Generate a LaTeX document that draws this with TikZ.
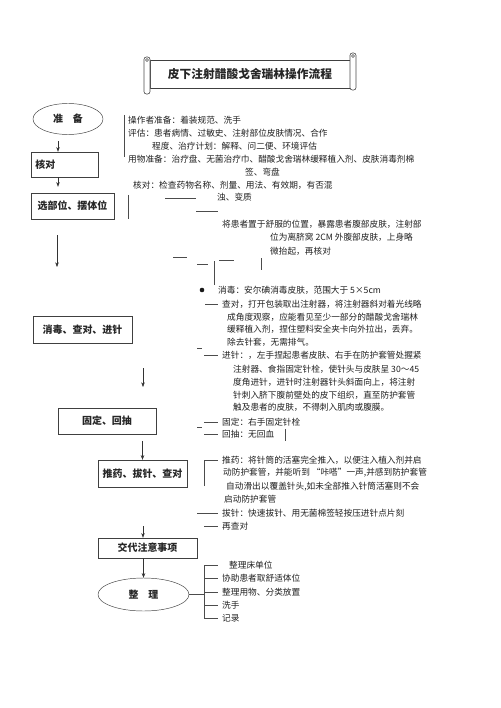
\documentclass[tikz,border=0pt]{standalone}
\usepackage{fontspec}
\newfontfamily\cjk{Noto Sans CJK SC}
\usetikzlibrary{arrows.meta,shapes.geometric}
\newcommand{\bodyfont}{\cjk\fontsize{7.4}{9}\selectfont}
\newcommand{\stagefont}{\cjk\bfseries\fontsize{8.5}{10}\selectfont}
\newcommand{\titlefont}{\cjk\bfseries\fontsize{10}{12}\selectfont}

\begin{document}
\begin{tikzpicture}[x=0.03cm, y=-0.03cm,
  stage/.style={draw=black!75, minimum height=0.78cm, inner sep=2pt,
                font=\stagefont, text=black!85},
  oval/.style={draw=black!75, ellipse, inner sep=0pt, font=\stagefont, text=black!85},
  txt/.style={anchor=west, inner sep=0pt, font=\bodyfont, text=black!88},
  arrow/.style={-{Stealth[length=4pt, width=3pt]}, black!80},
  stub/.style={black!70, line width=0.5pt}
]
\useasboundingbox (0,0) rectangle (500,708);

% Title scroll
\node[draw=black!75, minimum width=6cm, minimum height=0.84cm, font=\titlefont,
      text=black!85] (title) at (250,74) {皮下注射醋酸戈舍瑞林操作流程};
\draw[stub, rounded corners=2pt, fill=white] (144,57) rectangle (150,94);
\draw[stub] (147,60) circle (1.5);
\draw[stub, rounded corners=2pt, fill=white] (350,53) rectangle (356,90);
\draw[stub] (353,56) circle (1.5);

% Main steps
\node[oval, minimum width=2.1cm, minimum height=0.93cm] (zhunbei) at (68,119) {准\quad 备};
\node[stage, minimum width=2.01cm, minimum height=0.75cm, text width=1.75cm,
      align=left] (hedui) at (64.5,164.5) {核对};
\node[stage, minimum width=2.49cm] (xuanbuwei) at (72.5,206) {选部位、摆体位};
\node[stage, minimum width=2.97cm, minimum height=0.81cm] (xiaodu) at (82.5,329.5) {消毒、查对、进针};
\node[stage, minimum width=2.94cm] (guding) at (107,421) {固定、回抽};
\node[stage, minimum width=2.67cm, minimum height=0.81cm] (tuiyao) at (142.5,473.5) {推药、拔针、查对};
\node[stage, minimum width=2.97cm, minimum height=0.6cm] (jiaodai) at (147.5,548) {交代注意事项};
\node[oval, minimum width=2.73cm, minimum height=0.99cm] (zhengli) at (143.5,594.5) {整\quad 理};

% Arrows between steps
\coordinate (spine) at (58,0);
\draw[arrow, shorten <=0.2cm] (zhunbei.south -| spine) -- (hedui.north -| spine);
\draw[arrow, shorten >=0.18cm] (hedui.south -| spine) -- (xuanbuwei.north -| spine);
\coordinate (gapA) at (57,235);
\coordinate (gapB) at (57,267);
\draw[arrow] (gapA) -- (gapB);
\coordinate (gapC) at (143,368);
\coordinate (gapD) at (143,387);
\draw[arrow] (gapC) -- (gapD);
\draw[arrow, shorten <=0.2cm] (guding.south -| tuiyao.north) -- (tuiyao.north);
\coordinate (gapE) at (143,526);
\draw[arrow] (gapE) -- (gapE |- jiaodai.north);
\draw[arrow] (jiaodai.south -| zhengli.north) -- (zhengli.north);

% Preparation notes
\node[txt] (prep1) at (128,120) {操作者准备：着装规范、洗手};
\node[txt] (prep2) at (128,133) {评估：患者病情、过敏史、注射部位皮肤情况、合作};
\node[txt] (prep3) at (152,146) {程度、治疗计划：解释、问二便、环境评估};
\node[txt] (prep4) at (128,159) {用物准备：治疗盘、无菌治疗巾、醋酸戈舍瑞林缓释植入剂、皮肤消毒剂棉};
\node[txt] (prep5) at (245,172) {签、弯盘};
\node[txt] (check1) at (133,185) {核对：检查药物名称、剂量、用法、有效期，有否混};
\node[txt] (check2) at (217,197) {浊、变质};
\draw[stub] (124,115) -- (124,157);
\draw[stub] (165,198) -- (196,198);
\draw[stub] (196,211) -- (218,211);
\draw[stub] (128,195) -- (128,219);

% Position notes
\node[txt] (pos1) at (222,224) {将患者置于舒服的位置，暴露患者腹部皮肤，注射部};
\node[txt] (pos2) at (270,237) {位为离脐窝 2CM 外腹部皮肤，上身略};
\node[txt] (pos3) at (270,251) {微抬起，再核对};
\draw[stub] (173,257) -- (187,257);
\draw[stub] (197,264) -- (208,264);
\draw[stub] (214,261) -- (214,285);
\draw[stub] (219,260) -- (234,260);
\draw[stub] (261,258) -- (261,270);

% Disinfection and needle notes
\fill[black!90] (202,290) circle (2.3);
\node[txt] (dis1) at (218,290) {消毒：安尔碘消毒皮肤，范围大于 5×5cm};
\node[txt] (look1) at (222,304) {查对，打开包装取出注射器，将注射器斜对着光线略};
\node[txt] (look2) at (227,317) {成角度观察，应能看见至少一部分的醋酸戈舍瑞林};
\node[txt] (look3) at (227,329) {缓释植入剂，捏住塑料安全夹卡向外拉出，丢弃。};
\node[txt] (look4) at (227,342) {除去针套，无需排气。};
\node[txt] (ndl1) at (222,355) {进针：，左手捏起患者皮肤、右手在防护套管处握紧};
\node[txt] (ndl2) at (233,369) {注射器、食指固定针栓，使针头与皮肤呈 30～45};
\node[txt] (ndl3) at (233,382) {度角进针，进针时注射器针头斜面向上，将注射};
\node[txt] (ndl4) at (233,395) {针刺入脐下腹前壁处的皮下组织，直至防护套管};
\node[txt] (ndl5) at (233,407) {触及患者的皮肤，不得刺入肌肉或腹膜。};
\draw[stub, shorten >=0.12cm] ([xshift=-0.51cm]look1.west) -- (look1.west);
\draw[stub] (197,348) -- (202,348);
\draw[stub, shorten >=0.12cm] ([xshift=-0.54cm]ndl1.west) -- (ndl1.west);

% Fixing notes
\node[txt] (fix1) at (222,422) {固定：右手固定针栓};
\node[txt] (fix2) at (222,434) {回抽：无回血};
\draw[stub, shorten >=0.12cm] ([xshift=-0.54cm]fix1.west) -- (fix1.west);
\draw[stub] (197,427) -- (202,427);
\draw[stub, shorten >=0.12cm] ([xshift=-0.54cm]fix2.west) -- (fix2.west);
\draw[stub] (285,429) -- (285,441);

% Push, withdraw, check notes
\node[txt] (push1) at (222,460) {推药：将针筒的活塞完全推入，以便注入植入剂并启};
\node[txt] (push2) at (223,473) {动防护套管，并能听到 “咔嗒”一声,并感到防护套管};
\node[txt] (push3) at (226,487) {自动滑出以覆盖针头,如未全部推入针筒活塞则不会};
\node[txt] (push4) at (224,499) {启动防护套管};
\node[txt] (pull1) at (222,513) {拔针：快速拔针、用无菌棉签轻按压进针点片刻};
\node[txt] (recheck) at (222,526) {再查对};
\draw[stub, shorten >=0.12cm] (204,486) -- (204,460) -- (push1.west);
\draw[stub, shorten >=0.12cm] ([xshift=-0.75cm]pull1.west) -- (pull1.west);
\draw[stub, shorten >=0.12cm] ([xshift=-0.54cm]recheck.west) -- (recheck.west);

% Tidy-up list
\node[txt] (tidy1) at (229,565) {整理床单位};
\node[txt] (tidy2) at (222,578) {协助患者取舒适体位};
\node[txt] (tidy3) at (222,592) {整理用物、分类放置};
\node[txt] (tidy4) at (222,605) {洗手};
\node[txt] (tidy5) at (222,618) {记录};
\coordinate (brk) at (204,0);
\draw[stub] (zhengli.east) -- (zhengli.east -| brk);
\draw[stub] (tidy1.west -| brk) -- (tidy5.west -| brk);
\draw[stub, shorten >=0.33cm] (tidy1.west -| brk) -- (tidy1.west);
\draw[stub, shorten >=0.12cm] (tidy2.west -| brk) -- (tidy2.west);
\draw[stub, shorten >=0.12cm] (tidy3.west -| brk) -- (tidy3.west);
\draw[stub, shorten >=0.12cm] (tidy4.west -| brk) -- (tidy4.west);
\draw[stub, shorten >=0.12cm] (tidy5.west -| brk) -- (tidy5.west);

\end{tikzpicture}
\end{document}
